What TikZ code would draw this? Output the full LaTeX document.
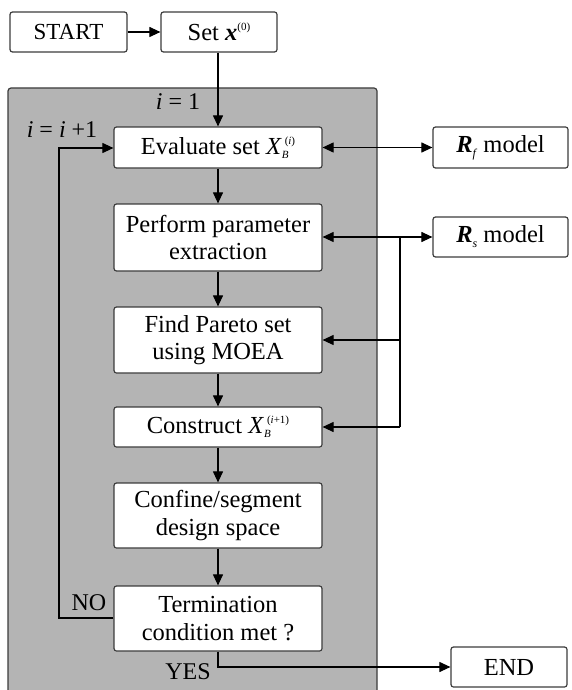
\documentclass[tikz,border=0pt]{standalone}
\usepackage{fontspec}
\setmainfont{Liberation Serif}
\usetikzlibrary{arrows.meta}
\definecolor{panel}{RGB}{180,180,180}
\definecolor{edge}{RGB}{60,60,60}
\newcommand{\smallsc}[1]{{\fontsize{11}{11}\selectfont #1}}
\newcommand{\XBwith}[1]{\textit{X}\rlap{\raisebox{-4pt}{\smallsc{\textit{B}}}}\hspace{3pt}\raisebox{10pt}{\smallsc{#1}}}
\begin{document}
\begin{tikzpicture}[x=1pt,y=-1pt,
  box/.style={draw=edge, line width=1.2pt, rounded corners=2.5pt, fill=white,
    align=center, inner sep=0pt, font=\fontsize{24.5}{27.5}\selectfont},
  conn/.style={draw=black, line width=1.1pt, -{Triangle[length=11pt,width=10pt]}},
  biconn/.style={draw=black, line width=1.1pt, {Triangle[length=11pt,width=10pt]}-{Triangle[length=11pt,width=10pt]}},
  plain/.style={draw=black, line width=1.1pt},
  lbl/.style={font=\fontsize{24}{27}\selectfont, inner sep=0pt}]
\clip (0,0) rectangle (572,690);
\fill[white] (0,0) rectangle (572,690);
% panel
\draw[fill=panel, draw=edge, line width=1.2pt, rounded corners=3pt] (8,88) rectangle (377,700);

% nodes
\node[box, minimum width=117pt, minimum height=40pt, font=\fontsize{23}{27}\selectfont] (start) at (68.5,32) {START};
\node[box, minimum width=116pt, minimum height=40pt] (setx) at (219,32) {Set \textbf{\textit{x}}\raisebox{10pt}{\smallsc{(0)}}};
\node[box, minimum width=208pt, minimum height=41pt] (eval) at (218,147.5) {Evaluate set \XBwith{(\textit{i})}};
\node[box, minimum width=208pt, minimum height=67pt] (perf) at (218,237.5) {Perform parameter\\extraction};
\node[box, minimum width=208pt, minimum height=66pt] (pareto) at (218,340) {Find Pareto set\\using MOEA};
\node[box, minimum width=208pt, minimum height=40pt] (constr) at (218,427) {Construct \XBwith{(\textit{i}+1)}};
\node[box, minimum width=208pt, minimum height=65pt] (conf) at (218,515.5) {Confine/segment\\design space};
\node[box, minimum width=208pt, minimum height=65pt] (term) at (218,618.5) {Termination\\condition met ?};
\node[box, minimum width=135pt, minimum height=41pt] (rf) at (500.5,147.5) {\textbf{\textit{R}}\raisebox{-5pt}{\fontsize{12}{12}\selectfont\textit{f}}\ model};
\node[box, minimum width=135pt, minimum height=40pt] (rs) at (500.5,237) {\textbf{\textit{R}}\raisebox{-5pt}{\fontsize{12}{12}\selectfont\textit{s}}\ model};
\node[box, minimum width=116pt, minimum height=40pt] (end) at (509,667) {END};

% labels
\node[lbl] (l1) at (178,102) {\textit{i} = 1};
\node[lbl] (l2) at (62,130) {\textit{i} = \textit{i} +1};
\node[lbl] (lno) at (89,603) {NO};
\node[lbl] (lyes) at (188,672) {YES};

% coordinates
\coordinate (bus) at (400,237);
\coordinate (loopb) at (59,618);
\coordinate (loopt) at (59,148);
\coordinate (yesc) at (218,667);

% connectors
\draw[conn] (start) -- (setx);
\draw[conn] (setx.south -| eval.north) -- (eval.north);
\draw[biconn] (eval.east |- rf) -- (rf.west);
\draw[conn] (eval) -- (perf);
\draw[conn] (perf) -- (pareto);
\draw[conn] (pareto) -- (constr);
\draw[conn] (constr) -- (conf);
\draw[conn] (conf) -- (term);
\draw[biconn] (perf.east |- rs) -- (rs.west);
\draw[plain] (bus) -- (bus |- constr);
\draw[conn] (bus |- pareto) -- (pareto.east);
\draw[conn] (bus |- constr) -- (constr.east);
\draw[conn] (term.west |- loopb) -- (loopb) -- (loopt) -- (eval.west |- loopt);
\draw[conn] (term.south) -- (yesc) -- (end.west);
\end{tikzpicture}
\end{document}
